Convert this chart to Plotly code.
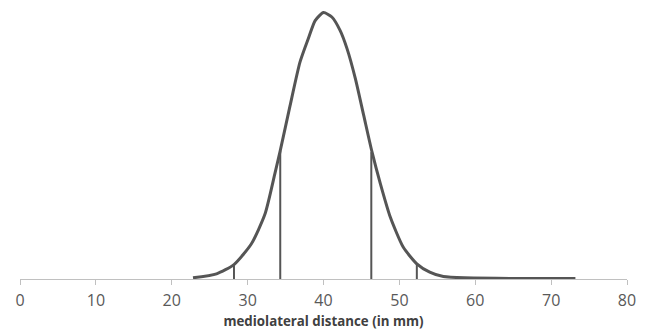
import plotly.graph_objects as go

# Curve (mediolateral distance in mm, relative frequency)
curve_x = [22.8, 25.9, 28.2, 30.5, 32.3, 33.6, 34.3, 35.6, 36.9, 38.0, 38.9, 40.0,
           41.1, 42.2, 43.1, 44.2, 45.3, 46.4, 47.5, 48.8, 50.5, 52.3, 54.0, 55.8, 73.2]
curve_y = [0.0003, 0.0013, 0.0036, 0.0088, 0.0163, 0.0264, 0.0321, 0.0434, 0.0542,
           0.0601, 0.0646, 0.0666, 0.0655, 0.0621, 0.0576, 0.0501, 0.0409, 0.0317,
           0.0238, 0.0155, 0.0080, 0.0038, 0.0017, 0.0006, 0.0001]

# Vertical marker lines
marker_x = [28.2, 34.3, 46.3, 52.3]
marker_y = [0.0036, 0.0321, 0.0317, 0.0038]

x_ticks = [0, 10, 20, 30, 40, 50, 60, 70, 80]

line_color = "#555555"

vx, vy = [], []
for mx, my in zip(marker_x, marker_y):
    vx += [mx, mx, None]
    vy += [0, my, None]

fig = go.Figure()
fig.add_trace(go.Scatter(x=vx, y=vy, mode="lines",
                         line=dict(color=line_color, width=2), hoverinfo="skip"))
fig.add_trace(go.Scatter(x=curve_x, y=curve_y, mode="lines",
                         line=dict(color=line_color, width=3, shape="spline",
                                   smoothing=0.6),
                         hoverinfo="skip"))

fig.update_layout(
    width=638, height=323,
    margin=dict(l=12, r=19, t=1, b=52, autoexpand=False),
    paper_bgcolor="white", plot_bgcolor="white",
    showlegend=False,
    font=dict(family="Open Sans, Liberation Sans, sans-serif", color="#595959"),
    xaxis=dict(
        range=[0, 80], tickvals=x_ticks, ticktext=[str(t) for t in x_ticks],
        showgrid=False, zeroline=False, automargin=False,
        showline=True, linecolor="#c0c0c0", linewidth=1,
        ticks="outside", ticklen=5, tickcolor="#c0c0c0", tickwidth=1,
        ticklabelstandoff=2,
        tickfont=dict(size=16, color="#595959"),
        title=dict(text="<b>mediolateral distance (in mm)</b>",
                   font=dict(size=13.3, color="#404040"), standoff=6),
    ),
    yaxis=dict(range=[0, 0.0675], visible=False, showgrid=False, zeroline=False,
               automargin=False),
)

fig.write_html("out.html")
